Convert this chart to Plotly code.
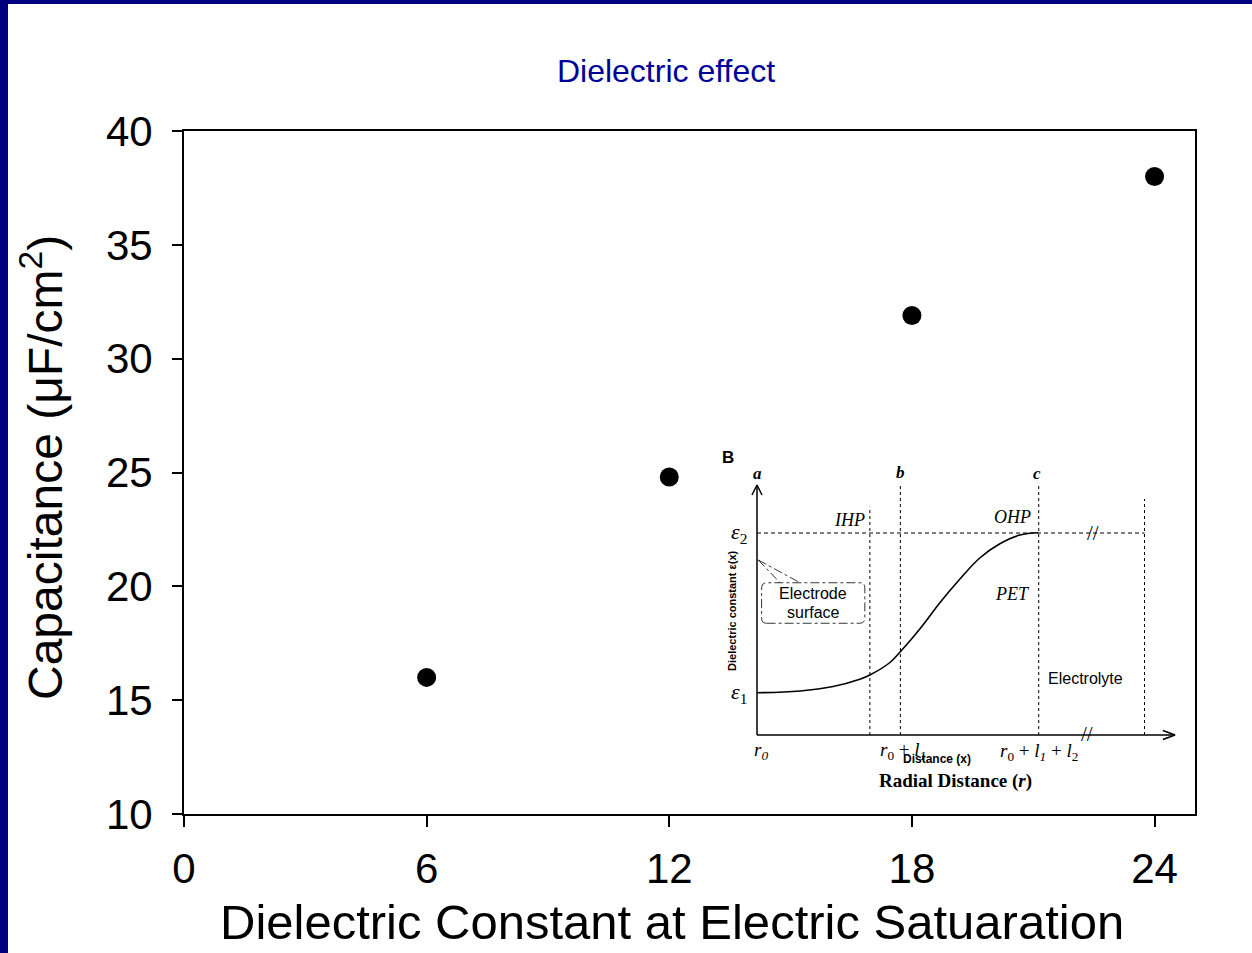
import plotly.graph_objects as go

# ---------------- main chart data ----------------
dielectric_const = [6, 12, 18, 24]
capacitance = [16.0, 24.8, 31.9, 38.0]
x_ticks = [0, 6, 12, 18, 24]
y_ticks = [10, 15, 20, 25, 30, 35, 40]

# ---------------- inset illustration data (inset units) ----------------
curve_x = [0.0, 10.3, 18.2, 24.6, 27.0, 31.8, 34.4, 39.0, 43.8, 48.6, 53.3, 58.1, 62.9, 67.3]
curve_y = [16.9, 17.6, 19.4, 22.3, 24.0, 29.0, 33.5, 42.5, 53.0, 62.5, 70.8, 76.5, 80.0, 80.9]
guide_names = ["IHP", "b", "c", "end"]
guide_x = [27.0, 34.3, 67.4, 92.7]
guide_top = [91.3, 100.8, 100.8, 94.4]
eps2_level = 80.8
box_x = [1.1, 25.8]
box_y = [44.7, 60.9]
callout_tip = [0.3, 70.0]
callout_ends_x = [5.5, 10.3]

NAVY = "#000080"
SERIF = "Liberation Serif, Times New Roman, serif"
SANS = "Liberation Sans, Arial, sans-serif"

# layout geometry (pixels)
W, H = 1252, 953
PL, PR, PT, PB = 184, 1195, 131, 814
PW, PH = PR - PL, PB - PT
# inset frame: origin pixel and pixels per inset unit
IX0, IY0, ISX, ISY = 757, 735, 4.18, 2.5
IXR = [-12, 104]
IYR = [-25, 115]


def px_to_paper_x(px):
    return (px - PL) / PW


def py_to_paper_y(py):
    return (PB - py) / PH


fig = go.Figure()

fig.add_trace(go.Scatter(
    x=dielectric_const, y=capacitance, mode="markers",
    marker=dict(size=19, color="black"), xaxis="x", yaxis="y", showlegend=False))

# inset curve
fig.add_trace(go.Scatter(
    x=curve_x, y=curve_y, mode="lines", line=dict(color="black", width=1.6, shape="spline", smoothing=1.1),
    xaxis="x2", yaxis="y2", showlegend=False, hoverinfo="skip"))

# inset axes with arrow heads
fig.add_trace(go.Scatter(
    x=[0, 0, None, -1.2, 0, 1.2, None, 0, 100, None, 97.1, 100, 97.1],
    y=[0, 100, None, 96, 100, 96, None, 0, 0, None, 1.8, 0, -1.8],
    mode="lines", line=dict(color="black", width=1.5),
    xaxis="x2", yaxis="y2", showlegend=False, hoverinfo="skip"))

shapes = []
# navy frame
shapes.append(dict(type="rect", xref="paper", yref="paper", x0=px_to_paper_x(-20), x1=px_to_paper_x(8),
                   y0=py_to_paper_y(H + 20), y1=py_to_paper_y(-20), fillcolor=NAVY,
                   line=dict(width=0), layer="above"))
shapes.append(dict(type="rect", xref="paper", yref="paper", x0=px_to_paper_x(-20), x1=px_to_paper_x(W + 20),
                   y0=py_to_paper_y(4), y1=py_to_paper_y(-20), fillcolor=NAVY,
                   line=dict(width=0), layer="above"))

# guide lines
for gx, gt in zip(guide_x, guide_top):
    shapes.append(dict(type="line", xref="x2", yref="y2", x0=gx, x1=gx, y0=0, y1=gt,
                       line=dict(color="black", width=1, dash="dot")))
shapes.append(dict(type="line", xref="x2", yref="y2", x0=0, x1=guide_x[-1], y0=eps2_level, y1=eps2_level,
                   line=dict(color="black", width=1, dash="4px,3px")))

# electrode surface box
x0, x1 = box_x
y0, y1 = box_y
rx, ry = 1.2, 2.0
path = (f"M {x0+rx},{y0} L {x1-rx},{y0} Q {x1},{y0} {x1},{y0+ry} L {x1},{y1-ry} "
        f"Q {x1},{y1} {x1-rx},{y1} L {x0+rx},{y1} Q {x0},{y1} {x0},{y1-ry} "
        f"L {x0},{y0+ry} Q {x0},{y0} {x0+rx},{y0} Z")
shapes.append(dict(type="path", xref="x2", yref="y2", path=path,
                   line=dict(color="black", width=0.8, dash="dashdot")))
for ex in callout_ends_x:
    shapes.append(dict(type="line", xref="x2", yref="y2", x0=callout_tip[0], y0=callout_tip[1],
                       x1=ex, y1=y1, line=dict(color="black", width=0.8, dash="dashdot")))

ann = []


def a2(x, y, text, size=15, family=SERIF, **kw):
    d = dict(xref="x2", yref="y2", x=x, y=y, text=text, showarrow=False,
             xanchor="center", yanchor="middle",
             font=dict(size=size, family=family, color="black"))
    d.update(kw)
    ann.append(d)


a2(-6.9, 111.2, "<b>B</b>", 17, SANS)
a2(0, 104.8, "<b><i>a</i></b>", 17)
a2(34.3, 105.2, "<b><i>b</i></b>", 17)
a2(67.0, 104.8, "<b><i>c</i></b>", 17)
a2(22.2, 86.0, "<i>IHP</i>", 18)
a2(61.2, 87.2, "<i>OHP</i>", 18)
a2(61.2, 56.4, "<i>PET</i>", 18)
a2(-4.3, 80.8, "<i>ε</i><sub>2</sub>", 22)
a2(-4.3, 16.8, "<i>ε</i><sub>1</sub>", 22)
a2(78.7, 22.8, "Electrolyte", 16, SANS)
a2(13.4, 56.8, "Electrode", 16, SANS)
a2(13.4, 49.0, "surface", 16, SANS)
a2(-6.0, 49.6, "<b>Dielectric constant ε(x)</b>", 11, SANS, textangle=-90)
a2(0.9, -6.2, "<i>r<sub>0</sub></i>", 19)
a2(34.9, -6.2, "<i>r</i><sub>0</sub> + <i>l<sub>1</sub></i>", 19)
a2(67.5, -6.8, "<i>r</i><sub>0</sub> + <i>l<sub>1</sub></i> + <i>l</i><sub>2</sub>", 19)
a2(43.1, -9.6, "<b>Distance (x)</b>", 12, SANS)
a2(47.4, -18.4, "<b>Radial Distance (<i>r</i>)</b>", 19)
a2(80.4, 80.8, "//", 21, SERIF)
a2(78.9, 0.3, "//", 21, SERIF)

# main axis titles
ann.append(dict(xref="paper", yref="paper", x=px_to_paper_x(672), y=py_to_paper_y(922),
                xanchor="center", yanchor="middle",
                text="Dielectric Constant at Electric Satuaration", showarrow=False,
                font=dict(size=49, family=SANS, color="black")))
ann.append(dict(xref="paper", yref="paper", x=px_to_paper_x(42), y=py_to_paper_y(468),
                xanchor="center", yanchor="middle",
                text="Capacitance (μF/cm<sup>2</sup>)", showarrow=False, textangle=-90,
                font=dict(size=48, family=SANS, color="black")))

fig.update_layout(
    width=W, height=H,
    margin=dict(l=PL, r=W - PR, t=PT, b=H - PB),
    paper_bgcolor="white", plot_bgcolor="white",
    title=dict(text="Dielectric effect", x=666 / W, xanchor="center",
               y=1 - 71 / H, yanchor="middle",
               font=dict(size=32, family=SANS, color="#000099")),
    xaxis=dict(range=[0, 25], tickvals=x_ticks, showgrid=False, zeroline=False,
               showline=True, linecolor="black", linewidth=1.8, mirror=True,
               ticks="outside", ticklen=11, tickwidth=1.8, tickcolor="black",
               ticklabelstandoff=6,
               tickfont=dict(size=42, family=SANS, color="black"), fixedrange=True),
    yaxis=dict(range=[10, 40], tickvals=y_ticks, showgrid=False, zeroline=False,
               showline=True, linecolor="black", linewidth=1.8, mirror=True,
               ticks="outside", ticklen=10, tickwidth=1.8, tickcolor="black",
               ticklabelstandoff=11,
               tickfont=dict(size=42, family=SANS, color="black"), fixedrange=True),
    xaxis2=dict(domain=[px_to_paper_x(IX0 + IXR[0] * ISX), px_to_paper_x(IX0 + IXR[1] * ISX)],
                range=IXR, anchor="y2", visible=False, fixedrange=True),
    yaxis2=dict(domain=[py_to_paper_y(IY0 - IYR[0] * ISY), py_to_paper_y(IY0 - IYR[1] * ISY)],
                range=IYR, anchor="x2", visible=False, fixedrange=True),
    shapes=shapes, annotations=ann, showlegend=False,
)

fig.write_html("out.html", config={"displayModeBar": False},
               post_script="document.body.style.margin='0px';")
